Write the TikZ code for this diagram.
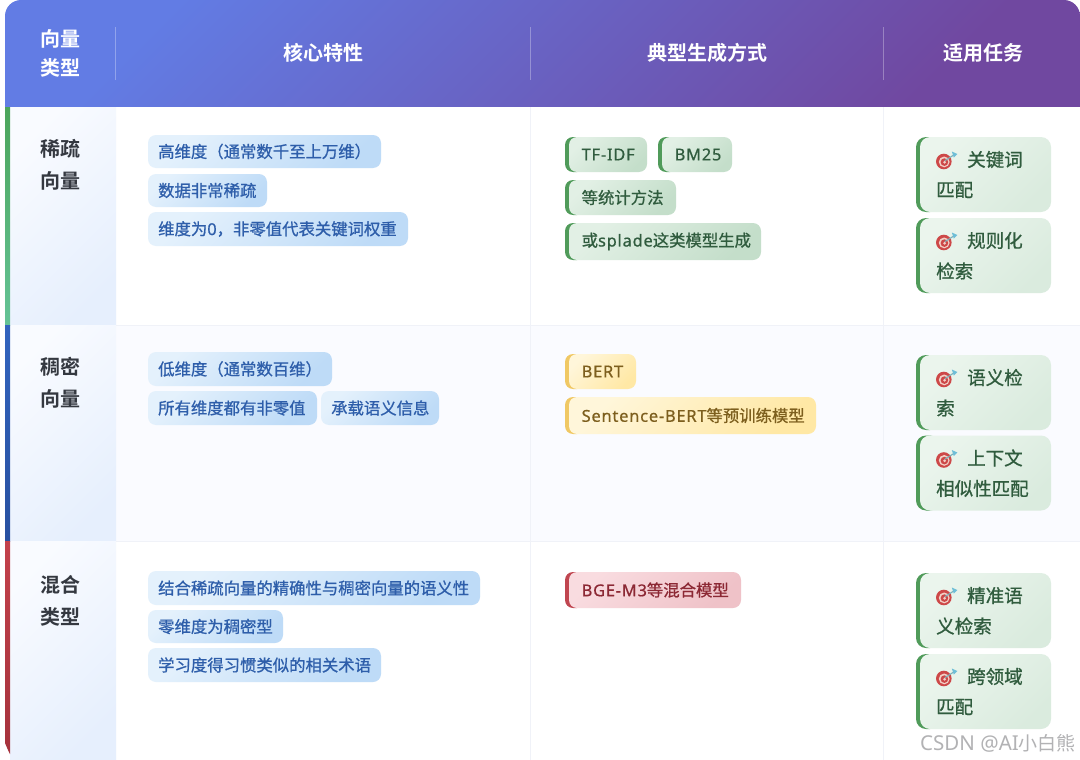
\documentclass[tikz,border=0pt]{standalone}
\usepackage{fontspec}
\setmainfont{Noto Sans CJK SC}[BoldFont={Noto Sans CJK SC Bold}]
\newfontfamily\chipfont{Noto Sans CJK SC}[FakeBold=0.9]
\newfontfamily\markfont{Noto Sans CJK SC}
\newfontfamily\marklat{Noto Sans}
\newfontfamily\latface{Noto Sans}[FakeBold=0.7,LetterSpace=5]
\newcommand{\lat}[1]{{\latface #1}}
\usetikzlibrary{shadings}
\definecolor{hdA}{RGB}{98,124,228}
\definecolor{hdB}{RGB}{112,72,160}
\definecolor{cellA}{RGB}{249,251,255}
\definecolor{cellB}{RGB}{230,239,253}
\definecolor{rowAlt}{RGB}{250,251,255}
\definecolor{sepc}{RGB}{240,242,248}
\definecolor{titlec}{RGB}{52,56,64}
\definecolor{blueA}{RGB}{228,241,252}
\definecolor{blueB}{RGB}{190,219,247}
\definecolor{bluet}{RGB}{46,94,170}
\definecolor{greenA}{RGB}{226,240,229}
\definecolor{greenB}{RGB}{196,222,202}
\definecolor{greenL}{RGB}{80,155,90}
\definecolor{greent}{RGB}{48,92,62}
\definecolor{yelA}{RGB}{255,246,218}
\definecolor{yelB}{RGB}{255,232,165}
\definecolor{yelL}{RGB}{240,200,100}
\definecolor{yelt}{RGB}{125,95,30}
\definecolor{redA}{RGB}{249,220,224}
\definecolor{redB}{RGB}{239,194,200}
\definecolor{redL}{RGB}{192,70,80}
\definecolor{redt}{RGB}{140,40,52}
\definecolor{taskA}{RGB}{235,245,237}
\definecolor{taskB}{RGB}{218,235,222}
\definecolor{edgeGa}{RGB}{76,165,90}
\definecolor{edgeGb}{RGB}{100,195,150}
\definecolor{edgeBa}{RGB}{50,100,190}
\definecolor{edgeBb}{RGB}{40,80,160}
\definecolor{edgeRa}{RGB}{195,65,75}
\definecolor{edgeRb}{RGB}{165,50,60}
\definecolor{iconR}{RGB}{205,72,72}
\definecolor{iconP}{RGB}{242,208,198}
\definecolor{iconD}{RGB}{125,175,185}
\definecolor{iconF}{RGB}{110,190,215}
\definecolor{markc}{RGB}{178,178,180}
\tikzset{
  diag/.style 2 args={top color=#1,bottom color=#2,shading angle=45},
  hdtext/.style={text=white,font=\fontsize{20}{20}\selectfont\bfseries,inner sep=0pt},
  rowtext/.style={text=titlec,font=\fontsize{20}{20}\selectfont\bfseries,inner sep=0pt},
  chiptext/.style={anchor=west,inner sep=0pt,font=\chipfont\fontsize{16.37}{16.37}\selectfont},
  tasktext/.style={anchor=west,inner sep=0pt,text=greent,font=\chipfont\fontsize{18.5}{18.5}\selectfont},
  hdline/.style={white,opacity=.3,line width=1pt},
  sepline/.style={sepc,line width=1pt},
  markstyle/.style={text=markc,inner sep=0pt,anchor=east,font=\markfont\fontsize{19}{19}\selectfont}
}
% blue chip: name, x1, y1, x2, y2, text
\newcommand{\bluechip}[6]{%
  \shade[diag={blueA}{blueB},rounded corners=8pt] (#2,#3) rectangle (#4,#5);
  \node[chiptext,text=bluet] (#1) at (#2+10,{(#3+#5)/2}) {#6};}
% bordered chip: name, x1,y1,x2,y2, colA, colB, colL, colT, text
\newcommand{\edgechip}[9]{\def\chipA{#6}\def\chipB{#7}\def\chipL{#8}\def\chipT{#9}\edgechipb{#1}{#2}{#3}{#4}{#5}}
\newcommand{\edgechipb}[6]{%
  \fill[\chipL,rounded corners=8pt] (#2,#3) rectangle (#2+20,#5);
  \shade[diag={\chipA}{\chipB},rounded corners=8pt] (#2+4,#3) rectangle (#4,#5);
  \node[chiptext,text=\chipT] (#1) at (#2+16.5,{(#3+#5)/2}) {#6};}
% task chip: name, y1, first line, second line
\newcommand{\taskchip}[4]{%
  \fill[greenL,rounded corners=10pt] (916,#2) rectangle (940,#2+75);
  \shade[diag={taskA}{taskB},rounded corners=10pt] (920,#2) rectangle (1051,#2+75);
  \begin{scope}[shift={(943.8,#2+24.5)}]
    \fill[iconR] (0,0) circle (7.8);
    \fill[iconP] (.4,.4) circle (5.4);
    \fill[iconR] (.6,.6) circle (3.8);
    \fill[iconP] (.8,.8) circle (1.5);
    \draw[iconD,line width=1.1pt] (1,-.8) -- (10,-6.5);
    \fill[iconF] (8,-10) -- (13.5,-7.5) -- (10,-4) -- cycle;
  \end{scope}
  \node[tasktext] (#1a) at (967,#2+22.5) {#3};
  \node[tasktext] (#1b) at (936,#2+53) {#4};}
\begin{document}
\begin{tikzpicture}[x=1pt,y=-1pt]
\useasboundingbox (0,0) rectangle (1080,760);
\fill[white] (0,0) rectangle (1080,760);
% row 2 tint
\fill[rowAlt] (115,325) rectangle (1080,541);
% first column
\shade[diag={cellA}{cellB}] (10,107) rectangle (116,325);
\shade[diag={cellA}{cellB}] (10,325) rectangle (116,541);
\shade[diag={cellA}{cellB}] (10,541) rectangle (116,760);
% separators
\draw[sepline] (116,325) -- (1080,325);
\draw[sepline] (116,541.5) -- (1080,541.5);
\draw[sepline] (530.5,107) -- (530.5,760);
\draw[sepline] (883.5,107) -- (883.5,760);
% coloured edges
\shade[top color=edgeGa,bottom color=edgeGb] (5,107) rectangle (10,325);
\shade[top color=edgeBa,bottom color=edgeBb] (5,325) rectangle (10,541);
\shade[top color=edgeRa,bottom color=edgeRb] (5,541) -- (10,541) -- (10,754) -- (8,750) -- (5,743) -- cycle;
% header
\shade[diag={hdA}{hdB}] (5,107) [rounded corners=16pt] -- (5,0) -- (1080,0) [sharp corners] -- (1080,107) -- cycle;
\draw[hdline] (115,27) -- (115,80);
\draw[hdline] (530,27) -- (530,80);
\draw[hdline] (883,27) -- (883,80);
\node[hdtext] (h1a) at (60,39) {向量};
\node[hdtext] (h1b) at (60,68) {类型};
\node[hdtext] (h2) at (323,53) {核心特性};
\node[hdtext] (h3) at (707,53) {典型生成方式};
\node[hdtext] (h4) at (983,53) {适用任务};
% row titles
\node[rowtext] (r1a) at (60,149) {稀疏};
\node[rowtext] (r1b) at (60,181) {向量};
\node[rowtext] (r2a) at (60,367) {稠密};
\node[rowtext] (r2b) at (60,399) {向量};
\node[rowtext] (r3a) at (60,585) {混合};
\node[rowtext] (r3b) at (60,617) {类型};
% feature chips
\bluechip{f1}{148}{135}{381}{168}{高维度（通常数千至上万维）}
\bluechip{f2}{148}{174}{267}{207}{数据非常稀疏}
\bluechip{f3}{148}{212}{408}{246}{维度为\lat{0}，非零值代表关键词权重}
\bluechip{f4}{148}{352}{332}{386}{低维度（通常数百维）}
\bluechip{f5}{148}{391}{317}{425}{所有维度都有非零值}
\bluechip{f6}{321}{391}{439}{425}{承载语义信息}
\bluechip{f7}{148}{571}{480}{605}{结合稀疏向量的精确性与稠密向量的语义性}
\bluechip{f8}{148}{610}{283}{643}{零维度为稠密型}
\bluechip{f9}{148}{648}{381}{682}{学习度得习惯类似的相关术语}
% method chips
\edgechip{m1}{565}{137}{647}{172}{greenA}{greenB}{greenL}{greent}{\lat{TF-IDF}}
\edgechip{m2}{658}{137}{732}{172}{greenA}{greenB}{greenL}{greent}{\lat{BM25}}
\edgechip{m3}{565}{180}{676}{215}{greenA}{greenB}{greenL}{greent}{等统计方法}
\edgechip{m4}{565}{223}{761}{260}{greenA}{greenB}{greenL}{greent}{或\lat{splade}这类模型生成}
\edgechip{m5}{565}{354}{636}{389}{yelA}{yelB}{yelL}{yelt}{\lat{BERT}}
\edgechip{m6}{565}{397}{816}{434}{yelA}{yelB}{yelL}{yelt}{\lat{Sentence-BERT}等预训练模型}
\edgechip{m7}{565}{572}{741}{608}{redA}{redB}{redL}{redt}{\lat{BGE-M3}等混合模型}
% task chips
\taskchip{t1}{137}{关键词}{匹配}
\taskchip{t2}{218}{规则化}{检索}
\taskchip{t3}{355}{语义检}{索}
\taskchip{t4}{435.5}{上下文}{相似性匹配}
\taskchip{t5}{573}{精准语}{义检索}
\taskchip{t6}{654}{跨领域}{匹配}
% watermark
\node[markstyle] (wm) at (1076,743) {{\marklat\fontsize{20.5}{20.5}\selectfont CSDN @AI}小白熊};
\end{tikzpicture}
\end{document}
